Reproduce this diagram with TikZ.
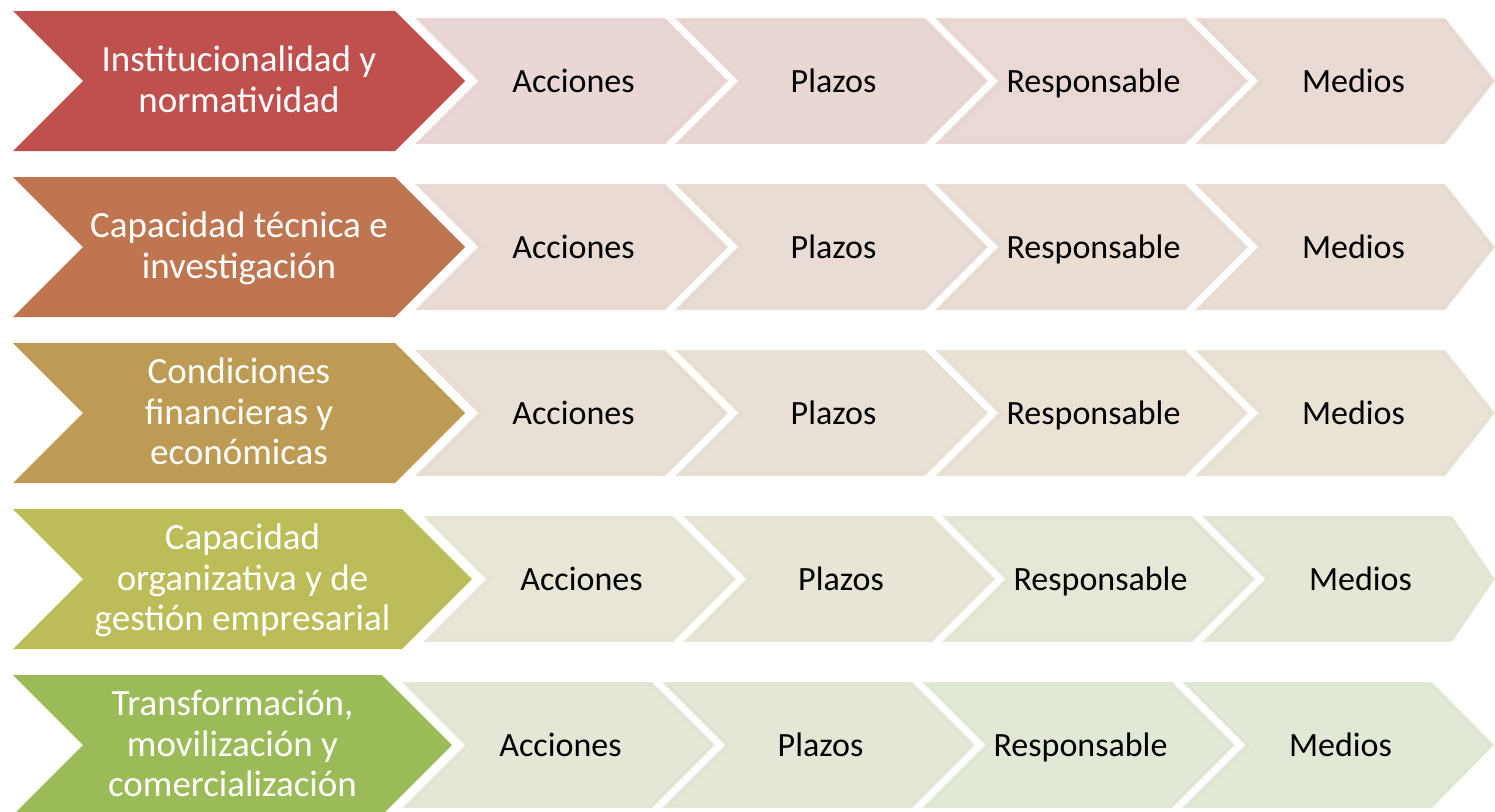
\documentclass[tikz,border=0pt]{standalone}
\usepackage{fontspec}
\setmainfont{Carlito}
\definecolor{bA}{HTML}{C0504D}
\definecolor{bB}{HTML}{BF7650}
\definecolor{bC}{HTML}{BE9B54}
\definecolor{bD}{HTML}{BCBC58}
\definecolor{bE}{HTML}{9BBB59}
\definecolor{sAa}{HTML}{E9D6D5}\definecolor{sAb}{HTML}{E9D7D4}\definecolor{sAc}{HTML}{E9D8D4}\definecolor{sAd}{HTML}{E9DAD3}
\definecolor{sBa}{HTML}{E9DBD4}\definecolor{sBb}{HTML}{E9DCD4}\definecolor{sBc}{HTML}{E9DDD4}\definecolor{sBd}{HTML}{E9DED4}
\definecolor{sCa}{HTML}{E9E0D5}\definecolor{sCb}{HTML}{E9E1D5}\definecolor{sCc}{HTML}{E9E2D5}\definecolor{sCd}{HTML}{E8E3D5}
\definecolor{sDa}{HTML}{E8E6D6}\definecolor{sDb}{HTML}{E7E6D6}\definecolor{sDc}{HTML}{E6E7D6}\definecolor{sDd}{HTML}{E5E7D6}
\definecolor{sEa}{HTML}{E4E7D6}\definecolor{sEb}{HTML}{E3E8D6}\definecolor{sEc}{HTML}{E2E8D6}\definecolor{sEd}{HTML}{E1E8D6}
% small chevron: xl, xr, xtip, ymid, colour, name, text
\newcommand\sch[7]{%
  \fill[#5] (#1,#4-63) -- (#2,#4-63) -- (#3,#4) -- (#2,#4+63) -- (#1,#4+63) -- (#1+63,#4) -- cycle;
  \draw[#5!97!black, line width=0.8pt] (#1+7.2,#4-60) -- (#2-1.2,#4-60) -- (#3-4.2,#4) -- (#2-1.2,#4+60) -- (#1+7.2,#4+60) -- (#1+67.2,#4) -- cycle;
  \node[smalltext] (#6) at ({(#1+63+#2)/2+2},#4+3) {\strut #7};}
% big chevron: xr, ymid, colour, name, text
\newcommand\bch[5]{%
  \fill[#3] (13,#2-70) -- (#1,#2-70) -- (#1+70,#2) -- (#1,#2+70) -- (13,#2+70) -- (83,#2) -- cycle;
  \node[bigtext] (#4) at ({(83+#1)/2},#2+3) {#5};}
\begin{document}
\begin{tikzpicture}[x=1pt,y=-1pt,
  bigtext/.style={text=white, font=\fontsize{37}{40.5}\selectfont, align=center, inner sep=0pt},
  smalltext/.style={text=black, font=\fontsize{34}{40}\selectfont, inner sep=0pt}]
\useasboundingbox (0,0) rectangle (1495,811);
\clip (0,0) rectangle (1495,811);
% row 1
\bch{395}{81}{bA}{ba}{\strut Institucionalidad y\\\strut normatividad}
\sch{415}{665}{728}{81}{sAa}{a1}{Acciones}
\sch{675}{925}{988}{81}{sAb}{a2}{Plazos}
\sch{935}{1185}{1248}{81}{sAc}{a3}{Responsable}
\sch{1195}{1445}{1495}{81}{sAd}{a4}{Medios}
% row 2
\bch{395}{247}{bB}{bb}{\strut Capacidad técnica e\\\strut investigación}
\sch{415}{665}{728}{247}{sBa}{b1}{Acciones}
\sch{675}{925}{988}{247}{sBb}{b2}{Plazos}
\sch{935}{1185}{1248}{247}{sBc}{b3}{Responsable}
\sch{1195}{1445}{1495}{247}{sBd}{b4}{Medios}
% row 3
\bch{395}{413}{bC}{bc}{\strut Condiciones\\\strut financieras y\\\strut económicas}
\sch{415}{665}{728}{413}{sCa}{c1}{Acciones}
\sch{675}{925}{988}{413}{sCb}{c2}{Plazos}
\sch{935}{1185}{1248}{413}{sCc}{c3}{Responsable}
\sch{1195}{1445}{1495}{413}{sCd}{c4}{Medios}
% row 4
\bch{402}{579}{bD}{bd}{\strut Capacidad\\\strut organizativa y de\\\strut gestión empresarial}
\sch{423}{673}{736}{579}{sDa}{d1}{Acciones}
\sch{683}{932}{995}{579}{sDb}{d2}{Plazos}
\sch{942}{1192}{1255}{579}{sDc}{d3}{Responsable}
\sch{1202}{1452}{1495}{579}{sDd}{d4}{Medios}
% row 5
\bch{382}{745}{bE}{be}{\strut Transformación,\\\strut movilización y\\\strut comercialización}
\sch{402}{652}{715}{745}{sEa}{e1}{Acciones}
\sch{662}{912}{975}{745}{sEb}{e2}{Plazos}
\sch{922}{1172}{1235}{745}{sEc}{e3}{Responsable}
\sch{1182}{1432}{1494}{745}{sEd}{e4}{Medios}
\end{tikzpicture}
\end{document}
